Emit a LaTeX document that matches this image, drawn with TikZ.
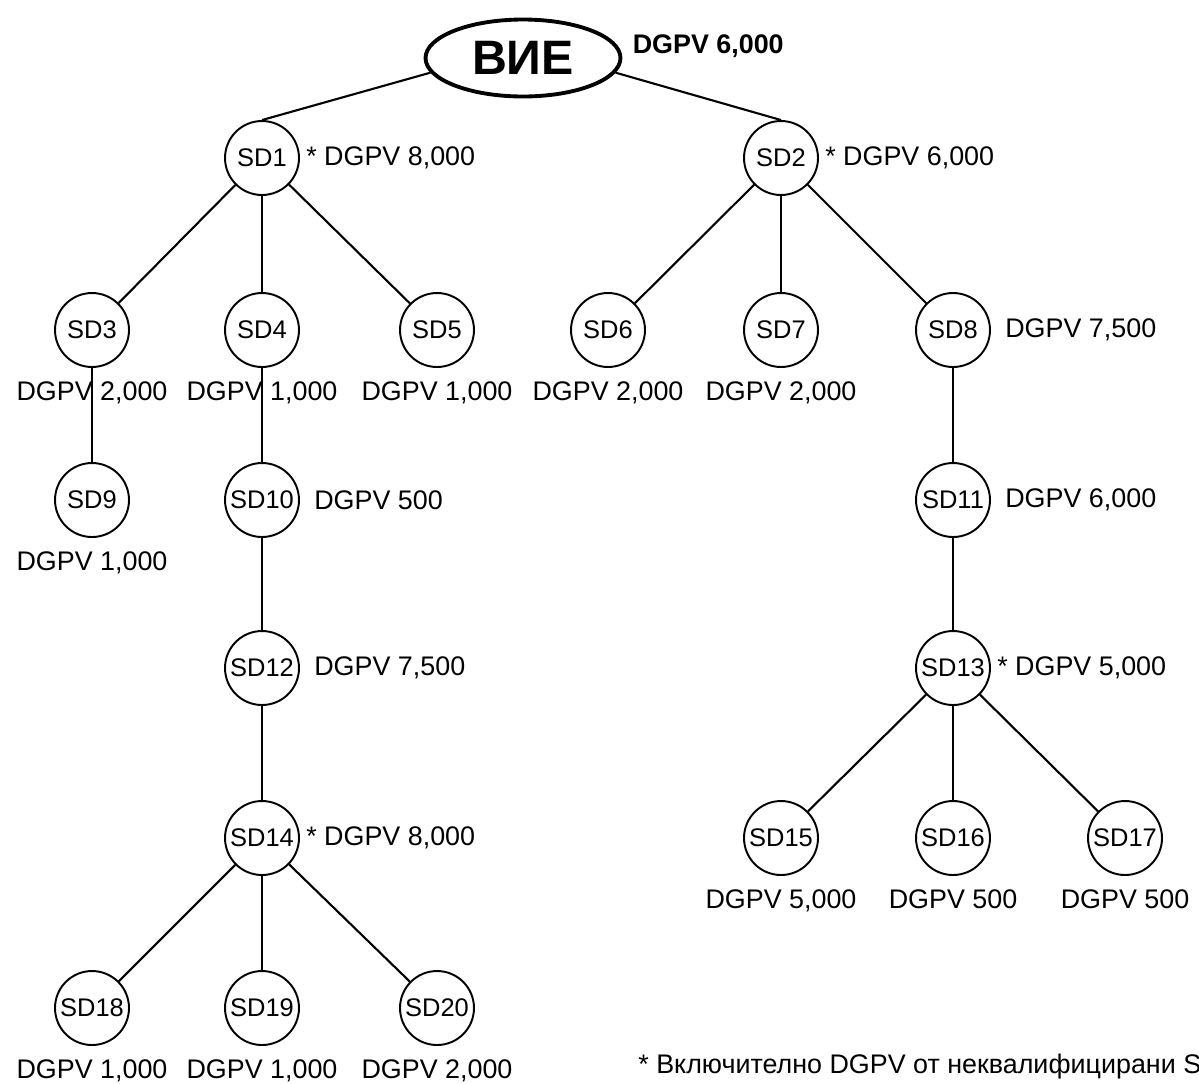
\documentclass[tikz,border=0pt]{standalone}
\usepackage{fontspec}
\setmainfont{Liberation Sans}
\usetikzlibrary{positioning,shapes}

\begin{document}
\begin{tikzpicture}[x=0.02cm, y=-0.02cm,
    root/.style={ellipse, draw, line width=2.2pt, minimum width=3.9cm, minimum height=1.54cm, inner sep=0pt, font=\fontsize{27.5}{30}\selectfont\bfseries},
    sd/.style={circle, draw, line width=1.1pt, minimum size=1.48cm, inner sep=0pt, font=\fontsize{14.5}{17}\selectfont},
    val/.style={inner sep=0pt, font=\fontsize{15.3}{18}\selectfont},
    link/.style={line width=1.2pt}
]
\useasboundingbox (0,0) rectangle (1199,1083);

% Root
\node[root] (you) at (523,58) {ВИЕ};
\node[val, font=\fontsize{15.3}{18}\selectfont\bfseries, right=0.2cm of you, yshift=0.24cm] (vyou) {DGPV 6,000};

% Level 1
\node[sd] (sd1) at (262,158) {SD1};
\node[sd] (sd2) at (781,158) {SD2};

% Level 2
\node[sd] (sd3) at (92,330) {SD3};
\node[sd] (sd4) at (262,330) {SD4};
\node[sd] (sd5) at (437,330) {SD5};
\node[sd] (sd6) at (608,330) {SD6};
\node[sd] (sd7) at (781,330) {SD7};
\node[sd] (sd8) at (953,330) {SD8};

% Level 3
\node[sd] (sd9) at (92,500) {SD9};
\node[sd] (sd10) at (262,500) {SD10};
\node[sd] (sd11) at (953,500) {SD11};

% Level 4
\node[sd] (sd12) at (262,668) {SD12};
\node[sd] (sd13) at (953,668) {SD13};

% Level 5
\node[sd] (sd14) at (262,838) {SD14};
\node[sd] (sd15) at (781,838) {SD15};
\node[sd] (sd16) at (953,838) {SD16};
\node[sd] (sd17) at (1125,838) {SD17};

% Level 6
\node[sd] (sd18) at (92,1008) {SD18};
\node[sd] (sd19) at (262,1008) {SD19};
\node[sd] (sd20) at (437,1008) {SD20};

% Values
\node[val, right=0.12cm of sd1] (v1) {* DGPV 8,000};
\node[val, right=0.12cm of sd2] (v2) {* DGPV 6,000};
\node[val, below=0.26cm of sd3] (v3) {DGPV 2,000};
\node[val, below=0.26cm of sd4] (v4) {DGPV 1,000};
\node[val, below=0.26cm of sd5] (v5) {DGPV 1,000};
\node[val, below=0.26cm of sd6] (v6) {DGPV 2,000};
\node[val, below=0.26cm of sd7] (v7) {DGPV 2,000};
\node[val, right=0.28cm of sd8] (v8) {DGPV 7,500};
\node[val, below=0.26cm of sd9] (v9) {DGPV 1,000};
\node[val, right=0.28cm of sd10] (v10) {DGPV 500};
\node[val, right=0.28cm of sd11] (v11) {DGPV 6,000};
\node[val, right=0.28cm of sd12] (v12) {DGPV 7,500};
\node[val, right=0.12cm of sd13] (v13) {* DGPV 5,000};
\node[val, right=0.12cm of sd14] (v14) {* DGPV 8,000};
\node[val, below=0.26cm of sd15] (v15) {DGPV 5,000};
\node[val, below=0.26cm of sd16] (v16) {DGPV 500};
\node[val, below=0.26cm of sd17] (v17) {DGPV 500};
\node[val, below=0.26cm of sd18] (v18) {DGPV 1,000};
\node[val, below=0.26cm of sd19] (v19) {DGPV 1,000};
\node[val, below=0.26cm of sd20] (v20) {DGPV 2,000};

% Note
\node[val, anchor=west] (note) at (638,1067) {* Включително DGPV от неквалифицирани S};

% Links
\draw[link] (you.189) -- (sd1.north);
\draw[link] (you.351) -- (sd2.north);
\foreach \a/\b in {sd1/sd3, sd1/sd4, sd1/sd5, sd2/sd6, sd2/sd7, sd2/sd8,
    sd3/sd9, sd4/sd10, sd10/sd12, sd12/sd14, sd14/sd18, sd14/sd19, sd14/sd20,
    sd8/sd11, sd11/sd13, sd13/sd15, sd13/sd16, sd13/sd17}
    \draw[link] (\a) -- (\b);

\end{tikzpicture}
\end{document}
